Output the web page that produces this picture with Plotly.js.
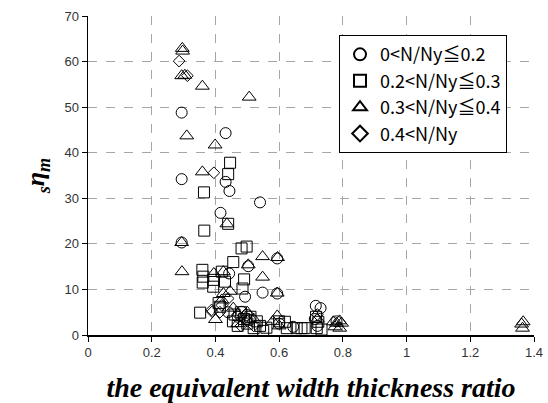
<!DOCTYPE html>
<html>
<head>
<meta charset="utf-8">
<script src="https://cdn.plot.ly/plotly-3.0.1.min.js"></script>
<style>html,body{margin:0;padding:0;background:#fff}#chart{width:548px;height:403px}</style>
</head>
<body>
<div id="chart"></div>
<script>
// Series names
const seriesNames = ["0<N/Ny≦0.2", "0.2<N/Ny≦0.3", "0.3<N/Ny≦0.4", "0.4<N/Ny"];

// 0<N/Ny<=0.2 (circles)
const circX = [0.294,0.432,0.294,0.432,0.444,0.540,0.416,0.294,0.503,0.443,0.548,0.493,0.594,0.594,0.715,0.730,0.644,0.712,0.482,0.498,0.508,0.470,0.600,0.720,0.780,0.440];
const circY = [48.8,44.3,34.2,33.6,31.6,29.1,26.8,20.3,15.1,13.5,9.3,8.4,16.8,9.1,6.4,5.9,1.8,3.5,5.1,4.4,3.3,4.0,2.5,2.0,3.0,5.0];

// 0.2<N/Ny<=0.3 (squares)
const sqX = [0.446,0.440,0.364,0.440,0.365,0.482,0.498,0.456,0.359,0.362,0.360,0.490,0.393,0.430,0.420,0.393,0.485,0.410,0.414,0.352,0.460,0.470,0.480,0.490,0.500,0.510,0.520,0.530,0.540,0.550,0.560,0.455,0.600,0.618,0.624,0.655,0.680,0.670,0.716,0.723,0.718,0.733];
const sqY = [37.8,35.3,31.3,24.4,22.9,19.0,19.4,16.0,14.3,12.8,11.5,12.2,12.1,11.7,13.9,10.6,10.2,7.0,6.2,4.9,4.5,2.0,5.0,3.5,2.5,4.0,1.5,3.0,2.0,0.9,1.6,3.0,3.0,2.9,1.5,1.5,1.5,1.5,4.0,2.9,1.5,1.2];

// 0.3<N/Ny<=0.4 (triangles)
const triX = [0.296,0.297,0.294,0.304,0.359,0.506,0.310,0.399,0.359,0.436,0.294,0.548,0.503,0.595,0.295,0.395,0.425,0.548,0.446,0.425,0.420,0.400,0.456,0.594,0.594,0.500,0.520,0.470,0.580,0.600,0.770,0.780,0.790,0.796,0.775,0.790,0.720,1.361,1.364,1.366];
const triY = [62.9,62.3,56.9,57.0,54.6,52.2,43.7,41.7,35.8,24.4,20.3,17.2,15.4,17.0,13.9,13.5,13.9,12.7,9.6,9.1,7.7,3.4,5.9,9.2,4.2,5.0,3.5,2.5,3.0,2.0,2.9,2.6,3.1,2.6,1.8,1.5,3.5,2.4,1.5,2.9];

// 0.4<N/Ny (diamonds)
const diaX = [0.286,0.312,0.395,0.390,0.414,0.388,0.420,0.440,0.470,0.500,0.480,0.520,0.720];
const diaY = [60.1,56.9,35.6,5.1,5.0,5.5,6.5,8.0,4.5,3.0,2.0,2.0,4.5];

// Axis ticks
const xTicks = [0,0.2,0.4,0.6,0.8,1,1.2,1.4];
const xTickText = ["0","0.2","0.4","0.6","0.8","1","1.2","1.4"];
const yTicks = [0,10,20,30,40,50,60,70];

const xs = [circX, sqX, triX, diaX];
const ys = [circY, sqY, triY, diaY];
const symbols = ["circle-open","square-open","triangle-up-open","diamond-open"];
const sizes = [11,11,12,9];

const traces = seriesNames.map((n,i)=>({
  type:"scatter", mode:"markers", name:n, x:xs[i], y:ys[i],
  legendgroup:"g"+i,
  marker:{symbol:symbols[i], size:sizes[i], color:"#000", line:{color:"#000", width:1}},
  cliponaxis:false
}));

const gridStyle = {showgrid:true, gridcolor:"#a6a6a6", griddash:"dash", gridwidth:1};

const layout = {
  width:548, height:403,
  margin:{l:88, r:14, t:16, b:68},
  paper_bgcolor:"#fff", plot_bgcolor:"#fff",
  showlegend:true,
  legend:{x:0.9395, y:0.94, xanchor:"right", yanchor:"top",
    bordercolor:"#000", borderwidth:1, bgcolor:"#fff",
    font:{family:"Noto Sans CJK JP, sans-serif", size:18, color:"#000"},
    traceorder:"grouped", tracegroupgap:0, itemsizing:"constant"},
  xaxis:Object.assign({
    range:[0,1.4], tickvals:xTicks, ticktext:xTickText,
    showline:true, linecolor:"#000", linewidth:1.5, mirror:false,
    ticks:"outside", ticklen:5, tickcolor:"#000",
    zeroline:false,
    tickfont:{family:"Liberation Sans, Arial, sans-serif", size:13, color:"#333"},
    title:{text:"the equivalent width thickness ratio",
      font:{family:"Liberation Serif, Times New Roman, serif", size:28, weight:"bold", style:"italic", color:"#000"}, standoff:18}
  }, gridStyle),
  yaxis:Object.assign({
    range:[0,70], tickvals:yTicks,
    showline:true, linecolor:"#000", linewidth:1.5, mirror:false,
    ticks:"outside", ticklen:5, tickcolor:"#000",
    zeroline:false,
    tickfont:{family:"Liberation Sans, Arial, sans-serif", size:13, color:"#333"},
    title:{text:"<sub>s</sub>η<sub>m</sub>",
      font:{family:"Liberation Serif, Times New Roman, serif", size:26, weight:"bold", style:"italic", color:"#000"}, standoff:12}
  }, gridStyle)
};

Plotly.newPlot("chart", traces, layout, {displayModeBar:false, staticPlot:true});
</script>
</body>
</html>
